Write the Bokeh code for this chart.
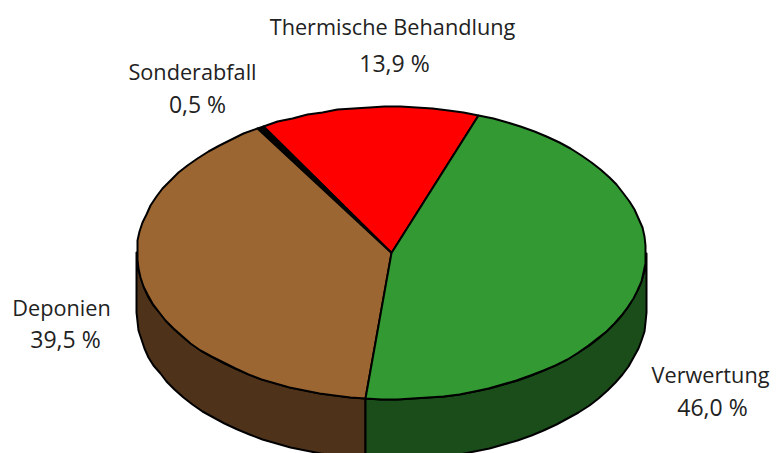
from math import cos, sin, radians
from bokeh.plotting import figure
from bokeh.models import Range1d
from bokeh.core.properties import value
from bokeh.embed import file_html
from bokeh.resources import INLINE

categories = ["Thermische Behandlung", "Sonderabfall", "Deponien", "Verwertung"]
shares = [13.9, 0.5, 39.5, 46.0]
share_labels = ["13,9 %", "0,5 %", "39,5 %", "46,0 %"]
top_colors = ["#ff0000", "#000000", "#9c6633", "#339933"]
side_colors = ["#800000", "#000000", "#4e331a", "#1a4d1a"]

START = 70.0
CX, CY, RX, RY, DEPTH = 391.0, 252.5, 254.5, 146.5, 60

label_x = [392, 192, 61, 710]
label_y = [26, 71, 307, 374]
value_x = [394, 197, 65, 712]
value_y = [62, 103, 338, 406]


def rim(a0, a1, dy=0.0, step=3.5):
    n = max(1, int(abs(a1 - a0) / step))
    pts = []
    for i in range(n + 1):
        a = radians(a0 + (a1 - a0) * i / n)
        pts.append((round(CX + RX * cos(a)), round(CY - RY * sin(a) + dy)))
    return pts


p = figure(width=776, height=453, x_range=Range1d(0, 776), y_range=Range1d(453, 0),
           output_backend="svg", toolbar_location=None, min_border=0,
           outline_line_color=None, background_fill_color="white", border_fill_color="white")
p.axis.visible = False
p.grid.visible = False

total = sum(shares)
spans = []
a = START
for s in shares:
    sweep = s / total * 360
    spans.append((a, a + sweep))
    a += sweep

# walls of the visible front half of the disc
for (a0, a1), col in zip(spans, side_colors):
    lo, hi = max(a0, 180), min(a1, 360)
    if hi > lo:
        pts = rim(lo, hi) + rim(hi, lo, DEPTH)
        p.patch([q[0] for q in pts], [q[1] for q in pts], fill_color=col,
                line_color="black", line_width=2, line_join="round")

# top face
for (a0, a1), col in zip(spans, top_colors):
    pts = [(CX, CY)] + rim(a0, a1)
    p.patch([q[0] for q in pts], [q[1] for q in pts], fill_color=col,
            line_color="black", line_width=2, line_join="round")

font = value("Open Sans")
p.text(label_x, label_y, text=categories, text_font=font, text_font_size="21.7px",
       text_color="#222222", text_align="center", text_baseline="middle")
p.text(value_x, value_y, text=share_labels, text_font=font, text_font_size="23px",
       text_color="#222222", text_align="center", text_baseline="middle")

open("out.html", "w").write(file_html(p, INLINE))
